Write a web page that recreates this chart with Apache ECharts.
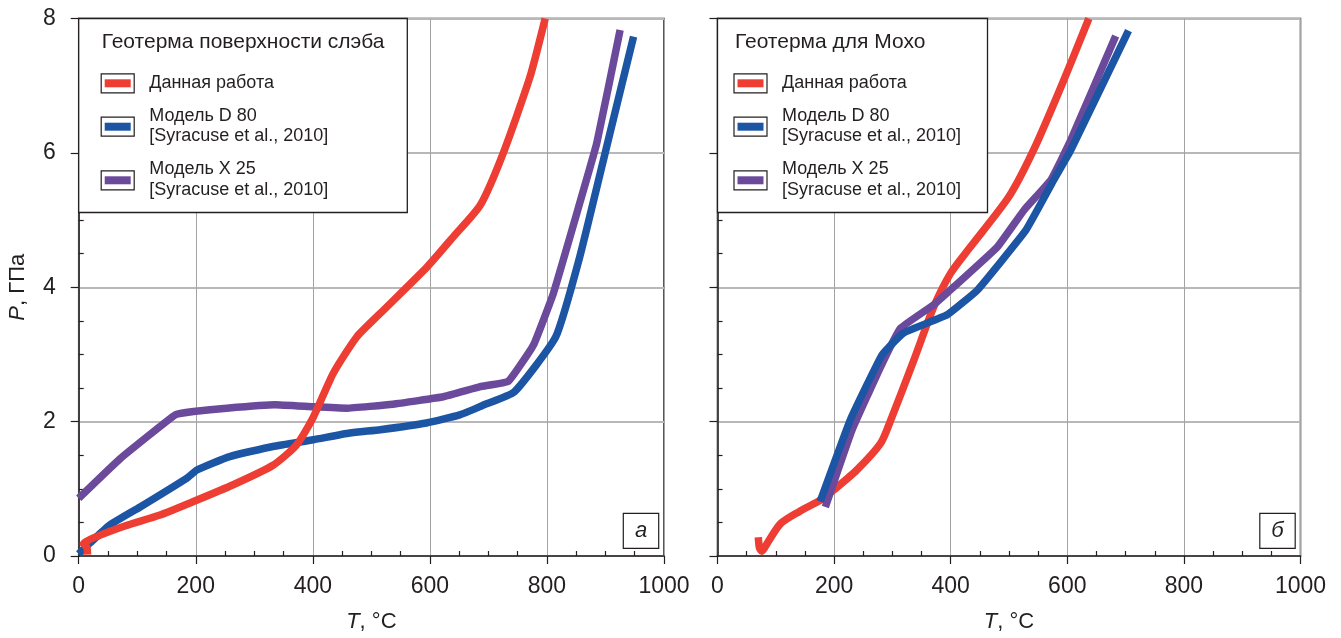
<!DOCTYPE html>
<html lang="ru" style="height: 100%">
<head>
    <meta charset="utf-8"/>
    <title>Геотермы</title>
    <script type="text/javascript" src="https://cdn.jsdelivr.net/npm/echarts@6/dist/echarts.min.js"></script>
</head>
<body style="height: 100%; margin: 0; background: #fff">
<div id="container" style="width: 1341px; height: 638px"></div>
<script type="text/javascript">
    // данные: [T, °C ; P, ГПа]
    // а - геотерма поверхности слэба
    var slabThisWork = [[15, 0.02], [14, 0.13], [8, 0.18], [14, 0.22], [25, 0.27], [80, 0.45], [139, 0.61], [196, 0.81], [264, 1.06], [332, 1.35], [372, 1.65], [401, 2.07], [435, 2.72], [475, 3.26], [515, 3.61], [595, 4.3], [640, 4.75], [686, 5.22], [725, 5.99], [771, 7.13], [797, 8.0]];
    var slabD80 = [[0, 0.03], [20, 0.2], [53, 0.46], [105, 0.73], [185, 1.16], [202, 1.28], [258, 1.48], [332, 1.63], [401, 1.73], [463, 1.83], [515, 1.88], [594, 1.98], [651, 2.1], [690, 2.24], [744, 2.44], [815, 3.26], [856, 4.45], [902, 6.09], [948, 7.73]];
    var slabX25 = [[0, 0.86], [71, 1.45], [165, 2.1], [196, 2.15], [253, 2.2], [335, 2.25], [401, 2.22], [458, 2.2], [537, 2.26], [623, 2.37], [686, 2.52], [734, 2.6], [777, 3.14], [811, 3.91], [851, 5.1], [885, 6.14], [925, 7.83]];
    // б - геотерма для Мохо
    var mohoThisWork = [[70, 0.28], [72, 0.12], [76, 0.07], [86, 0.2], [108, 0.48], [140, 0.66], [178, 0.84], [199, 0.98], [239, 1.28], [280, 1.68], [297, 2.02], [337, 2.92], [371, 3.71], [400, 4.21], [432, 4.58], [500, 5.35], [542, 6.04], [590, 7.0], [637, 8.0]];
    var mohoD80 = [[176, 0.81], [228, 2.03], [282, 2.99], [319, 3.32], [394, 3.59], [446, 3.96], [529, 4.85], [577, 5.6], [606, 6.04], [705, 7.82]];
    var mohoX25 = [[185, 0.73], [231, 1.88], [280, 2.82], [314, 3.39], [371, 3.74], [406, 4.01], [480, 4.6], [526, 5.15], [572, 5.6], [606, 6.19], [683, 7.74]];

    var legendTitles = ['Геотерма поверхности слэба', 'Геотерма для Мохо'];
    var legendNames = [['Данная работа'], ['Модель D 80', '[Syracuse et al., 2010]'], ['Модель X 25', '[Syracuse et al., 2010]']];
    var panelLetters = ['а', 'б'];

    var FONT = 'Liberation Sans, Arial, sans-serif';
    var INK = '#231f20';
    var RED = '#ee3d32', BLUE = '#1d55a5', PURPLE = '#6b4a9c';
    var colors = [RED, BLUE, PURPLE];

    var grids = [
        {left: 78.7, top: 18.5, width: 585.3, height: 537.6},
        {left: 717.5, top: 18.5, width: 583, height: 537.6}
    ];

    var dom = document.getElementById('container');
    var myChart = echarts.init(dom);

    var xAxes = [], yAxes = [], series = [], graphics = [];
    var plain = function (v) { return String(v); };

    grids.forEach(function (g, i) {
        // основная ось X: подписи, большие засечки наружу, сетка
        xAxes.push({
            type: 'value', gridIndex: i, position: 'bottom', min: 0, max: 1000, interval: 200,
            axisLine: {show: true, onZero: false, lineStyle: {color: INK, width: 1.5}},
            axisTick: {show: true, inside: false, length: 8, lineStyle: {color: INK, width: 1.2}},
            axisLabel: {fontSize: 23, margin: 19, color: INK, fontFamily: FONT, formatter: plain},
            splitLine: {show: true, lineStyle: {color: '#a3a3a3', width: 1}},
            name: '{i|T}, °C', nameLocation: 'middle', nameGap: 55,
            nameTextStyle: {fontSize: 22, color: INK, fontFamily: FONT,
                rich: {i: {fontStyle: 'italic', fontSize: 22, color: INK, fontFamily: FONT}}}
        });
        // вспомогательная ось X: малые засечки внутрь
        xAxes.push({
            type: 'value', gridIndex: i, position: 'bottom', min: 0, max: 1000, interval: 200,
            axisLine: {show: false, onZero: false},
            axisTick: {show: false, inside: true},
            axisLabel: {show: false},
            splitLine: {show: false},
            minorTick: {show: true, splitNumber: 4, length: 5, lineStyle: {color: INK, width: 1.2}}
        });
        yAxes.push({
            type: 'value', gridIndex: i, position: 'left', min: 0, max: 8, interval: 2,
            axisLine: {show: true, onZero: false, lineStyle: {color: INK, width: 1.5}},
            axisTick: {show: true, inside: false, length: 8, lineStyle: {color: INK, width: 1.2}},
            axisLabel: {show: i === 0, fontSize: 23, margin: 23, color: INK, fontFamily: FONT, formatter: plain},
            splitLine: {show: true, lineStyle: {color: '#b8b8b8', width: 2}},
            name: i === 0 ? '{i|P}, ГПа' : '', nameLocation: 'middle', nameGap: 50,
            nameTextStyle: {fontSize: 22, color: INK, fontFamily: FONT,
                rich: {i: {fontStyle: 'italic', fontSize: 22, color: INK, fontFamily: FONT}}}
        });
        yAxes.push({
            type: 'value', gridIndex: i, position: 'left', min: 0, max: 8, interval: 2,
            axisLine: {show: false, onZero: false},
            axisTick: {show: false, inside: true},
            axisLabel: {show: false},
            splitLine: {show: false},
            minorTick: {show: true, splitNumber: 4, length: 5, lineStyle: {color: INK, width: 1.2}}
        });

        // легенда панели
        var bx = g.left, by = g.top;
        var bw = i === 0 ? 328.6 : 270;
        graphics.push({
            type: 'rect', z: 100, shape: {x: bx, y: by, width: bw, height: 194},
            style: {fill: '#fff', stroke: INK, lineWidth: 1.3}
        });
        graphics.push({
            type: 'text', z: 101, x: bx + (i === 0 ? 23 : 17.5), y: 42.5,
            style: {text: legendTitles[i], fill: INK, font: '21px ' + FONT, verticalAlign: 'middle'}
        });
        var itemY = [83.3, 126.7, 180.3];
        var swX = bx + (i === 0 ? 22.5 : 16.5);
        var txX = bx + (i === 0 ? 70.5 : 64.5);
        legendNames.forEach(function (lines, k) {
            graphics.push({
                type: 'rect', z: 101, shape: {x: swX, y: itemY[k] - 9.5, width: 33, height: 19},
                style: {fill: '#fff', stroke: INK, lineWidth: 1.2}
            });
            graphics.push({
                type: 'rect', z: 102, shape: {x: swX + 3.5, y: itemY[k] - 4, width: 26, height: 8},
                style: {fill: colors[k]}
            });
            lines.forEach(function (t, j) {
                var ty = lines.length === 1 ? itemY[k] : itemY[k] - 11 + j * 20.5;
                graphics.push({
                    type: 'text', z: 101, x: txX, y: ty,
                    style: {text: t, fill: INK, font: '18px ' + FONT, verticalAlign: 'middle'}
                });
            });
        });

        // буква панели
        var rx = g.left + g.width - 40.7;
        graphics.push({
            type: 'rect', z: 100, shape: {x: rx, y: 513.3, width: 35.4, height: 35},
            style: {fill: '#fff', stroke: INK, lineWidth: 1.2}
        });
        graphics.push({
            type: 'text', z: 101, x: rx + 17.7, y: 531,
            style: {text: panelLetters[i], fill: INK, font: 'italic 22px ' + FONT, align: 'center', verticalAlign: 'middle'}
        });
    });

    function line(name, data, color, axisIdx, smooth) {
        return {
            name: name, type: 'line', data: data,
            xAxisIndex: axisIdx * 2, yAxisIndex: axisIdx * 2,
            showSymbol: false, symbol: 'none', smooth: smooth,
            lineStyle: {color: color, width: 7.5, cap: 'butt', join: 'round'},
            z: 3, silent: true
        };
    }

    series.push(line('Модель X 25', slabX25, PURPLE, 0, 0.1));
    series.push(line('Модель D 80', slabD80, BLUE, 0, 0.15));
    series.push(line('Данная работа', slabThisWork, RED, 0, 0.2));
    series.push(line('Данная работа', mohoThisWork, RED, 1, 0.25));
    series.push(line('Модель X 25', mohoX25, PURPLE, 1, 0.1));
    series.push(line('Модель D 80', mohoD80, BLUE, 1, 0.1));

    var option = {
        animation: false,
        backgroundColor: '#fff',
        textStyle: {fontFamily: FONT},
        grid: grids.map(function (g) {
            return {left: g.left, top: g.top, width: g.width, height: g.height,
                show: true, borderColor: INK, borderWidth: 1.5, backgroundColor: 'transparent'};
        }),
        xAxis: xAxes,
        yAxis: yAxes,
        series: series,
        graphic: graphics
    };
    myChart.setOption(option, true);
</script>
</body>
</html>
